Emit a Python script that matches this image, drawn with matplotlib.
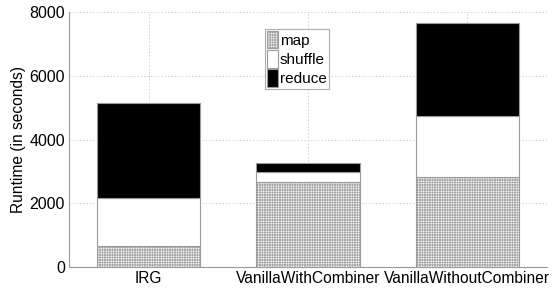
import matplotlib
matplotlib.use("Agg")
import matplotlib.pyplot as plt
import numpy as np

categories = ["IRG", "VanillaWithCombiner", "VanillaWithoutCombiner"]
map_time = [670, 2655, 2830]
shuffle_time = [1500, 313, 1894]
reduce_time = [2960, 302, 2934]
yticks = [0, 2000, 4000, 6000, 8000]

plt.rcParams['font.family'] = ['Liberation Sans', 'DejaVu Sans']
plt.rcParams['hatch.linewidth'] = 0.35
plt.rcParams['hatch.color'] = '#9a9a9a'

fig = plt.figure(figsize=(5.53, 2.89), dpi=100)
ax = fig.add_axes([69/553, 1-267/289, (547-69)/553, (267-12)/289])

x = np.arange(len(categories))
w = 0.65
edge = '#9a9a9a'
m = np.array(map_time)
s = np.array(shuffle_time)
r = np.array(reduce_time)
ax.bar(x, m, w, color='white', edgecolor=edge, hatch='++++++++++', linewidth=0.8, label='map', zorder=3)
ax.bar(x, s, w, bottom=m, color='white', edgecolor=edge, linewidth=0.8, label='shuffle', zorder=3)
ax.bar(x, r, w, bottom=m + s, color='black', edgecolor=edge, linewidth=0.8, label='reduce', zorder=3)

ax.set_xlim(-0.5, 2.5)
ax.set_ylim(0, 8000)
ax.set_xticks(x)
ax.set_xticklabels(categories, fontsize=11.2)
ax.set_yticks(yticks)
ax.set_yticklabels([str(t) for t in yticks], fontsize=11.5)
ax.set_ylabel("Runtime (in seconds)", fontsize=11.2, labelpad=2)
ax.grid(True, linestyle=(0, (1.5, 2)), color='#d0d0d0', linewidth=0.7, zorder=0)
for sp in ['top', 'right']:
    ax.spines[sp].set_visible(False)
for sp in ['left', 'bottom']:
    ax.spines[sp].set_color('#999999')
    ax.spines[sp].set_linewidth(0.8)
ax.tick_params(length=0, pad=3)

leg = ax.legend(loc='upper left', bbox_to_anchor=((265-69)/478, 1-(29-12)/255),
                fontsize=11, frameon=True, fancybox=False, handlelength=0.7,
                handleheight=1.4, handletextpad=0.15, borderpad=0.12,
                labelspacing=0.1, borderaxespad=0)
leg.get_frame().set_edgecolor('#999999')
leg.get_frame().set_linewidth(0.8)

fig.savefig("out.png", dpi=100)
